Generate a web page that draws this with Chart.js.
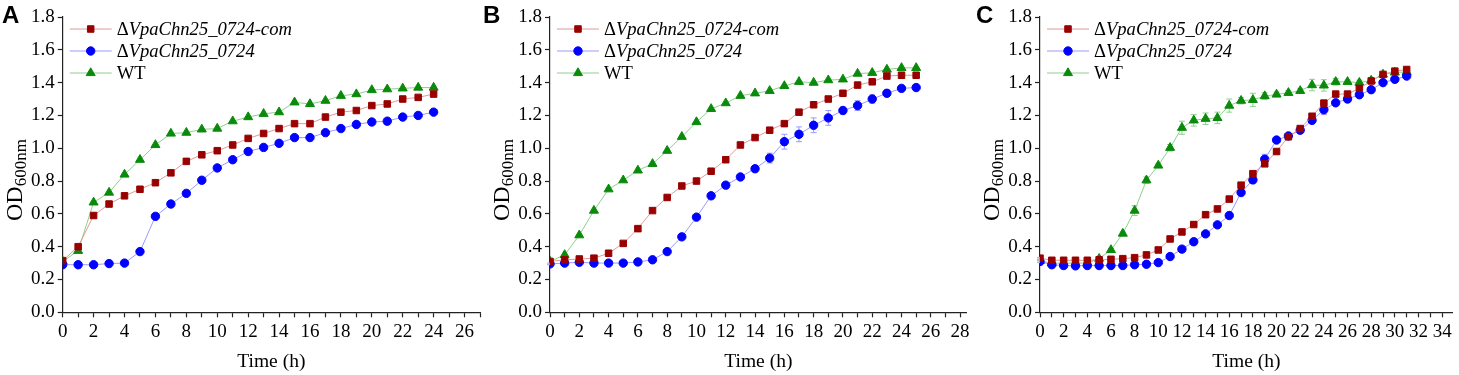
<!DOCTYPE html>
<html lang="en">
<head>
<meta charset="UTF-8">
<title>Growth curves</title>
<script src="https://cdn.jsdelivr.net/npm/chart.js"></script>
<style>
  body {
    margin: 0;
    background: #ffffff;
    width: 1459px;
    height: 375px;
    position: relative;
    overflow: hidden;
  }
  .panel {
    position: absolute;
    top: 0;
    height: 375px;
  }
  .tag {
    position: absolute;
    top: 3px;
    font: bold 24px 'Liberation Sans', Arial, sans-serif;
    line-height: 1;
    color: #000;
  }
</style>
</head>
<body>
  <div class="panel" style="left:0;width:487px"><canvas id="chartA"></canvas></div>
  <div class="panel" style="left:487px;width:488px"><canvas id="chartB"></canvas></div>
  <div class="panel" style="left:975px;width:484px"><canvas id="chartC"></canvas></div>
  <div class="tag" style="left:2px">A</div>
  <div class="tag" style="left:483px">B</div>
  <div class="tag" style="left:976px">C</div>

<script>
  // series names
  const seriesNames = ["ΔVpaChn25_0724-com", "ΔVpaChn25_0724", "WT"];

  // panel A (0-24 h)
  const hoursA = [0,1,2,3,4,5,6,7,8,9,10,11,12,13,14,15,16,17,18,19,20,21,22,23,24];
  const comA = [0.315,0.40,0.59,0.66,0.71,0.75,0.79,0.85,0.92,0.96,0.985,1.02,1.06,1.09,1.12,1.15,1.15,1.19,1.22,1.23,1.26,1.27,1.30,1.31,1.33];
  const delA = [0.29,0.29,0.29,0.297,0.30,0.37,0.585,0.66,0.725,0.805,0.88,0.93,0.98,1.005,1.03,1.065,1.065,1.095,1.12,1.145,1.16,1.165,1.19,1.20,1.22];
  const wtA  = [0.31,0.375,0.67,0.73,0.84,0.93,1.02,1.09,1.095,1.115,1.12,1.165,1.19,1.21,1.22,1.28,1.27,1.29,1.32,1.33,1.355,1.36,1.365,1.37,1.37];

  // panel B (0-25 h)
  const hoursB = [0,1,2,3,4,5,6,7,8,9,10,11,12,13,14,15,16,17,18,19,20,21,22,23,24,25];
  const comB = [0.31,0.32,0.325,0.33,0.36,0.42,0.51,0.62,0.70,0.77,0.80,0.86,0.93,1.02,1.065,1.11,1.15,1.22,1.265,1.30,1.335,1.385,1.405,1.44,1.445,1.445];
  const delB = [0.295,0.30,0.305,0.30,0.30,0.30,0.307,0.32,0.37,0.46,0.58,0.71,0.775,0.825,0.875,0.94,1.04,1.085,1.14,1.185,1.23,1.26,1.30,1.335,1.365,1.37];
  const wtB  = [0.31,0.35,0.47,0.62,0.75,0.805,0.865,0.905,0.985,1.07,1.16,1.24,1.275,1.32,1.335,1.35,1.38,1.405,1.40,1.415,1.42,1.455,1.46,1.48,1.49,1.49];
  const sdDelB = [0.005,0.005,0.005,0.005,0.005,0.005,0.005,0.005,0.01,0.01,0.01,0.015,0.01,0.01,0.01,0.03,0.045,0.045,0.045,0.045,0.02,0.03,0.025,0.02,0.01,0.01];

  // panel C (0-31 h)
  const hoursC = [0,1,2,3,4,5,6,7,8,9,10,11,12,13,14,15,16,17,18,19,20,21,22,23,24,25,26,27,28,29,30,31];
  const comC = [0.33,0.317,0.317,0.317,0.317,0.32,0.323,0.327,0.333,0.35,0.38,0.447,0.49,0.535,0.595,0.63,0.69,0.775,0.845,0.905,0.98,1.07,1.12,1.195,1.275,1.33,1.33,1.365,1.41,1.45,1.47,1.48];
  const delC = [0.31,0.29,0.285,0.283,0.285,0.285,0.285,0.285,0.29,0.293,0.303,0.34,0.385,0.43,0.478,0.533,0.59,0.73,0.807,0.933,1.05,1.075,1.11,1.17,1.235,1.277,1.30,1.326,1.357,1.40,1.42,1.44];
  const wtC  = [0.313,0.30,0.30,0.30,0.30,0.327,0.38,0.48,0.62,0.805,0.895,1.003,1.125,1.17,1.18,1.185,1.26,1.29,1.295,1.318,1.328,1.338,1.35,1.385,1.383,1.405,1.405,1.40,1.413,1.45,1.462,1.465];
  const sdComC = [0.005,0.005,0.005,0.005,0.005,0.005,0.005,0.005,0.005,0.005,0.005,0.005,0.005,0.005,0.005,0.005,0.005,0.005,0.005,0.005,0.01,0.01,0.01,0.01,0.02,0.01,0.01,0.01,0.01,0.01,0.01,0.01];
  const sdDelC = [0.005,0.005,0.005,0.005,0.005,0.005,0.005,0.005,0.005,0.005,0.005,0.005,0.005,0.005,0.005,0.005,0.005,0.01,0.01,0.03,0.01,0.01,0.02,0.02,0.03,0.01,0.02,0.01,0.01,0.01,0.01,0.01];
  const sdWtC  = [0.01,0.005,0.005,0.005,0.005,0.01,0.01,0.01,0.03,0.02,0.01,0.02,0.04,0.035,0.035,0.035,0.04,0.02,0.04,0.02,0.015,0.015,0.015,0.035,0.035,0.02,0.01,0.015,0.01,0.01,0.01,0.01];

  const FONT = "'Liberation Serif', 'Times New Roman', serif";

  const styles = [
    { line: "#e09a9a", mark: "#990000", pointStyle: "rect", radius: 4.6, italic: true },
    { line: "#9a9aff", mark: "#0000ff", pointStyle: "circle", radius: 4.2, italic: true },
    { line: "#8fcf8f", mark: "#0a8a0a", pointStyle: "triangle", radius: 5.2, italic: false }
  ];

  // error bars from the sd arrays
  const errorBars = {
    id: "errorBars",
    beforeDatasetsDraw(chart) {
      const { ctx } = chart;
      const xs = chart.scales.x, ys = chart.scales.y;
      chart.data.datasets.forEach(ds => {
        if (!ds.sd) return;
        ctx.save();
        ctx.strokeStyle = ds.borderColor;
        ctx.lineWidth = 1;
        ds.data.forEach((p, i) => {
          const e = ds.sd[i];
          if (!e) return;
          const px = xs.getPixelForValue(p.x);
          const top = ys.getPixelForValue(p.y + e);
          const bot = ys.getPixelForValue(p.y - e);
          ctx.beginPath();
          ctx.moveTo(px, top); ctx.lineTo(px, bot);
          ctx.moveTo(px - 3, top); ctx.lineTo(px + 3, top);
          ctx.moveTo(px - 3, bot); ctx.lineTo(px + 3, bot);
          ctx.stroke();
        });
        ctx.restore();
      });
    }
  };

  // legend inside the plot, line + marker + text (delta kept upright)
  const insetLegend = {
    id: "insetLegend",
    afterDraw(chart) {
      const { ctx, chartArea } = chart;
      chart.data.datasets.forEach((ds, i) => {
        const st = styles[i];
        const y = chartArea.top + 12 + i * 22;
        const x0 = chartArea.left + 7;
        ctx.save();
        ctx.strokeStyle = st.line;
        ctx.lineWidth = 1;
        ctx.beginPath();
        ctx.moveTo(x0, y);
        ctx.lineTo(x0 + 42, y);
        ctx.stroke();
        ctx.fillStyle = st.mark;
        ctx.strokeStyle = st.mark;
        Chart.helpers.drawPoint(ctx, { pointStyle: st.pointStyle, radius: st.radius, borderWidth: 1, rotation: 0 }, x0 + 21, y);
        ctx.fillStyle = "#000";
        ctx.textBaseline = "middle";
        let tx = x0 + 47;
        let text = ds.label;
        if (text.startsWith("Δ")) {
          ctx.font = "18.6px " + FONT;
          ctx.fillText("Δ", tx, y + 1);
          tx += ctx.measureText("Δ").width;
          text = text.slice(1);
        }
        ctx.font = (st.italic ? "italic " : "") + "18.6px " + FONT;
        ctx.fillText(text, tx, y + 1);
        ctx.restore();
      });
    }
  };

  // y title with subscript
  const yTitle = {
    id: "yTitle",
    afterDraw(chart) {
      const { ctx, chartArea } = chart;
      ctx.save();
      ctx.translate(chartArea.left - 41, 221);
      ctx.rotate(-Math.PI / 2);
      ctx.fillStyle = "#000";
      ctx.textBaseline = "alphabetic";
      ctx.font = "24px " + FONT;
      ctx.fillText("OD", 0, 0);
      const w = ctx.measureText("OD").width;
      ctx.font = "17px " + FONT;
      ctx.fillText("600nm", w, 4);
      ctx.restore();
    }
  };

  function points(xs, ys) {
    return xs.map((x, i) => ({ x: x, y: ys[i] }));
  }

  function makePanel(id, hours, series, sds, xMax, leftW, rightPad) {
    const datasets = series.map((vals, i) => ({
      label: seriesNames[i],
      data: points(hours, vals),
      sd: sds[i],
      borderColor: styles[i].line,
      backgroundColor: styles[i].mark,
      borderWidth: 1,
      pointStyle: styles[i].pointStyle,
      pointRadius: styles[i].radius,
      pointBackgroundColor: styles[i].mark,
      pointBorderColor: styles[i].mark,
      pointBorderWidth: 1,
      tension: 0
    }));

    new Chart(document.getElementById(id), {
      type: "line",
      data: { datasets: datasets },
      options: {
        responsive: true,
        maintainAspectRatio: false,
        animation: false,
        layout: { padding: { left: 0, right: rightPad, top: 17, bottom: 0 } },
        plugins: {
          legend: { display: false },
          tooltip: { enabled: false }
        },
        scales: {
          x: {
            type: "linear",
            min: 0,
            max: xMax,
            afterFit(s) { s.height = 62.7; },
            border: { color: "#222", width: 1.2 },
            grid: { drawOnChartArea: false, drawTicks: true, tickLength: 5, color: "#222", tickWidth: 1.2 },
            ticks: {
              stepSize: 1,
              autoSkip: false,
              maxRotation: 0,
              includeBounds: false,
              color: "#000",
              padding: 3,
              font: { family: FONT, size: 19 },
              callback: v => (v % 2 === 0 ? v : "")
            },
            title: {
              display: true,
              text: "Time (h)",
              color: "#000",
              font: { family: FONT, size: 19.5 },
              padding: { top: 0, bottom: 1 }
            }
          },
          y: {
            min: 0,
            max: 1.8,
            afterFit(s) { s.width = leftW; },
            border: { color: "#222", width: 1.2 },
            grid: { drawOnChartArea: false, drawTicks: true, tickLength: 5, color: "#222", tickWidth: 1.2 },
            ticks: {
              stepSize: 0.2,
              color: "#000",
              padding: 3,
              font: { family: FONT, size: 19 },
              callback: v => v.toFixed(1)
            }
          }
        }
      },
      plugins: [errorBars, insetLegend, yTitle]
    });
  }

  makePanel("chartA", hoursA, [comA, delA, wtA], [null, null, null], 27, 62.7, 7);
  makePanel("chartB", hoursB, [comB, delB, wtB], [null, sdDelB, null], 28.45, 63, 8.3);
  makePanel("chartC", hoursC, [comC, delC, wtC], [sdComC, sdDelC, sdWtC], 34.9, 65, 3);
</script>
</body>
</html>
